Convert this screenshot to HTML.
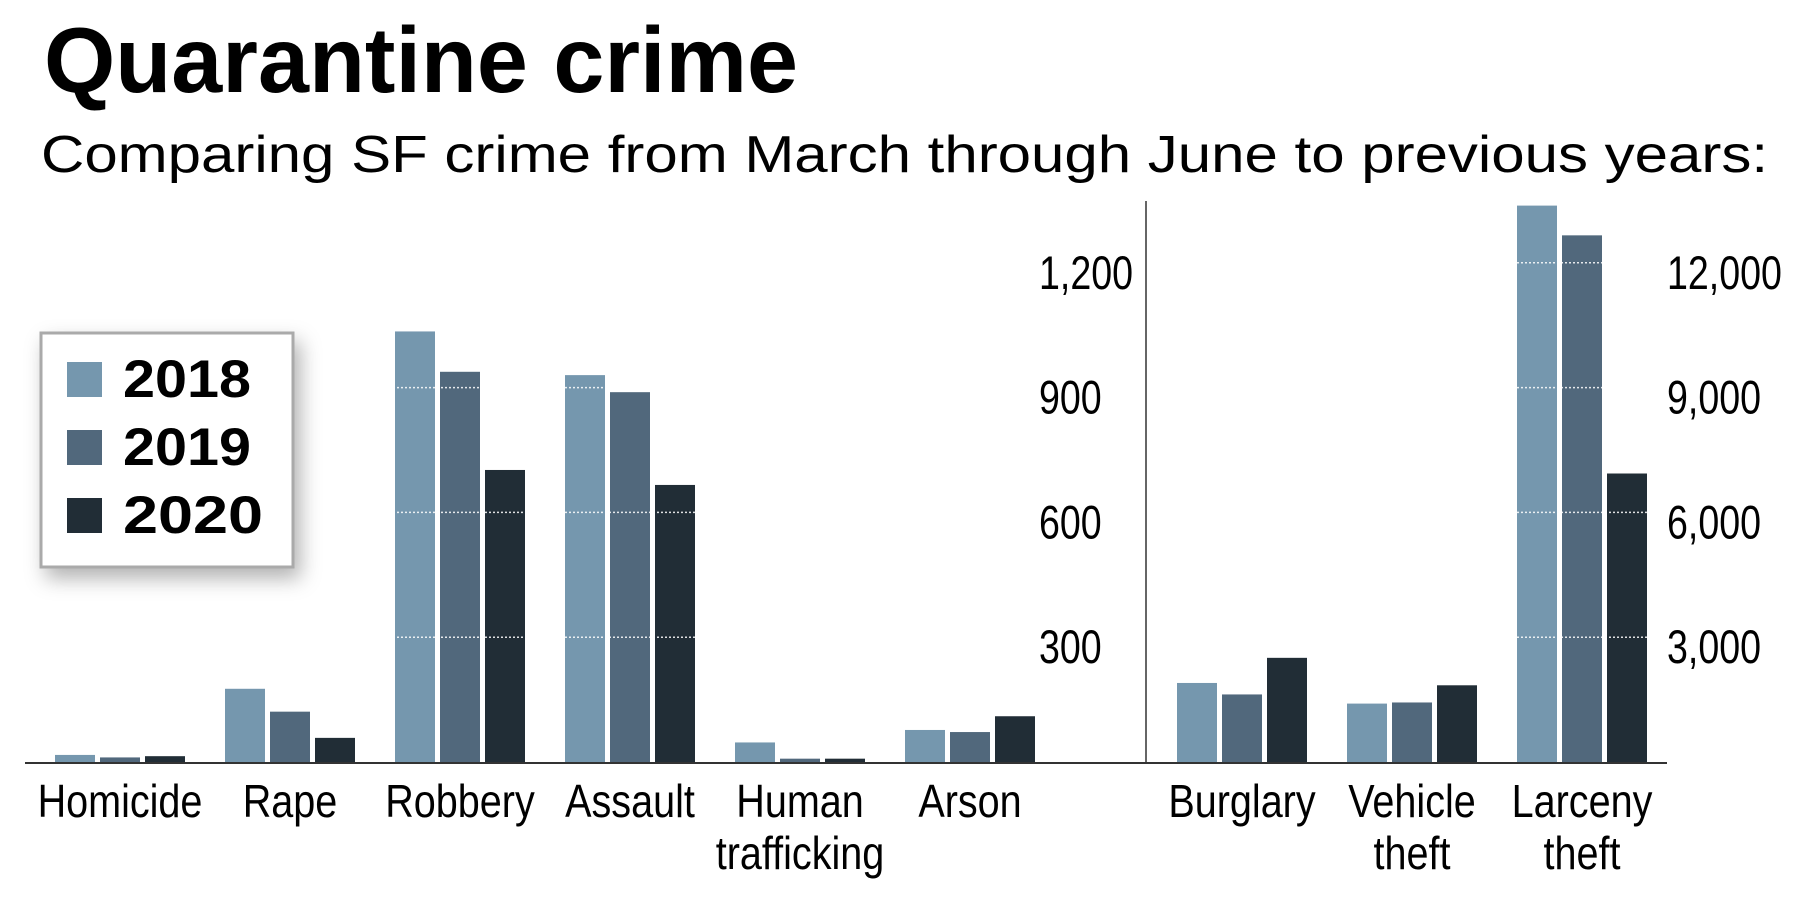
<!DOCTYPE html>
<html><head><meta charset="utf-8"><style>
html,body{margin:0;padding:0;background:#fff;}
svg{display:block;}
text{font-family:"Liberation Sans",sans-serif;}
</style></head><body>
<svg id="chart" width="1800" height="900" viewBox="0 0 1800 900">
  <defs>
    <filter id="sh" x="-20%" y="-20%" width="150%" height="150%">
      <feDropShadow dx="6" dy="10" stdDeviation="10" flood-color="#000" flood-opacity="0.3"/>
    </filter>
  </defs>
  <text x="44" y="92" font-size="93" font-weight="bold" textLength="754" lengthAdjust="spacingAndGlyphs">Quarantine crime</text>
  <text x="41" y="172" font-size="52" textLength="1727" lengthAdjust="spacingAndGlyphs">Comparing SF crime from March through June to previous years:</text>
  <g id="bars"></g>
  <g id="grid"></g>
  <g id="axes"></g>
  <g id="labels"></g>
  <g>
    <rect x="41" y="333" width="252" height="234" fill="#fff" stroke="#aaa" stroke-width="3" filter="url(#sh)"/>
    <rect x="67" y="362" width="35" height="35" fill="#7597ae"/>
    <text x="123" y="397" font-size="53" font-weight="bold" textLength="128" lengthAdjust="spacingAndGlyphs">2018</text>
    <rect x="67" y="430" width="35" height="35" fill="#51687c"/>
    <text x="123" y="465" font-size="53" font-weight="bold" textLength="128" lengthAdjust="spacingAndGlyphs">2019</text>
    <rect x="67" y="498" width="35" height="35" fill="#212d36"/>
    <text x="123" y="533" font-size="53" font-weight="bold" textLength="140" lengthAdjust="spacingAndGlyphs">2020</text>
  </g>
</svg>
<script>
const leftCats = ["Homicide","Rape","Robbery","Assault","Human|trafficking","Arson"];
const left2018 = [17,176,1035,930,47,77];
const left2019 = [11,121,938,889,8,72];
const left2020 = [14,58,702,666,8,110];
const rightCats = ["Burglary","Vehicle|theft","Larceny|theft"];
const right2018 = [1900,1404,13375];
const right2019 = [1624,1431,12660];
const right2020 = [2504,1844,6935];
const leftTicks = [300,600,900,1200];
const leftTickLabels = ["300","600","900","1,200"];
const rightTicks = [3000,6000,9000,12000];
const rightTickLabels = ["3,000","6,000","9,000","12,000"];
const colors = ["#7597ae","#51687c","#212d36"];

const NS = "http://www.w3.org/2000/svg";
const baseY = 762, pxPer300 = 124.8;
function yL(v){ return baseY - v/300*pxPer300; }
function yR(v){ return baseY - v/3000*pxPer300; }
const barW = 40, barStep = 45;
function xLeft(i){ return 55 + i*170; }
function xRight(i){ return 1177 + i*170; }

function mk(tag, attrs, parent){
  const e = document.createElementNS(NS, tag);
  for (const k in attrs) e.setAttribute(k, attrs[k]);
  parent.appendChild(e);
  return e;
}
const gBars = document.getElementById('bars');
const gGrid = document.getElementById('grid');
const gAxes = document.getElementById('axes');
const gLab = document.getElementById('labels');

function drawGroup(cats, series, xf, yf){
  cats.forEach((c, i) => {
    series.forEach((s, j) => {
      const y = yf(s[i]);
      const r = mk('rect', {x: xf(i) + j*barStep, y: y, width: barW, height: baseY - y, fill: colors[j]}, gBars);
      
      
    });
    const cx = xf(i) + barStep + barW/2;
    c.split('|').forEach((line, k) => {
      const t = mk('text', {transform: 'translate(' + cx + ',' + (817 + k*52) + ') scale(0.86,1)', 'text-anchor': 'middle', 'font-size': 46}, gLab);
      t.textContent = line;
      
      
    });
  });
}
drawGroup(leftCats, [left2018, left2019, left2020], xLeft, yL);
drawGroup(rightCats, [right2018, right2019, right2020], xRight, yR);

leftTicks.forEach((v, i) => {
  const y = yL(v);
  const l = mk('line', {x1: 25, x2: 1667, y1: y, y2: y, stroke: '#fff', 'stroke-width': 1.5, 'stroke-dasharray': '2,2', opacity: 0.85}, gGrid);
  
  
  const t = mk('text', {transform: 'translate(1039,' + (y + 26) + ') scale(0.8,1)', 'font-size': 47}, gAxes);
  t.textContent = leftTickLabels[i];
  
  
});
rightTicks.forEach((v, i) => {
  const y = yR(v);
  const t = mk('text', {transform: 'translate(1667,' + (y + 26) + ') scale(0.8,1)', 'font-size': 47}, gAxes);
  t.textContent = rightTickLabels[i];
  
  
});
const base = mk('line', {x1: 25, x2: 1667, y1: baseY + 1, y2: baseY + 1, stroke: '#333', 'stroke-width': 2}, gAxes);


const div = mk('line', {x1: 1146, x2: 1146, y1: 201, y2: baseY, stroke: '#333', 'stroke-width': 1.5}, gAxes);


</script>
</body></html>
